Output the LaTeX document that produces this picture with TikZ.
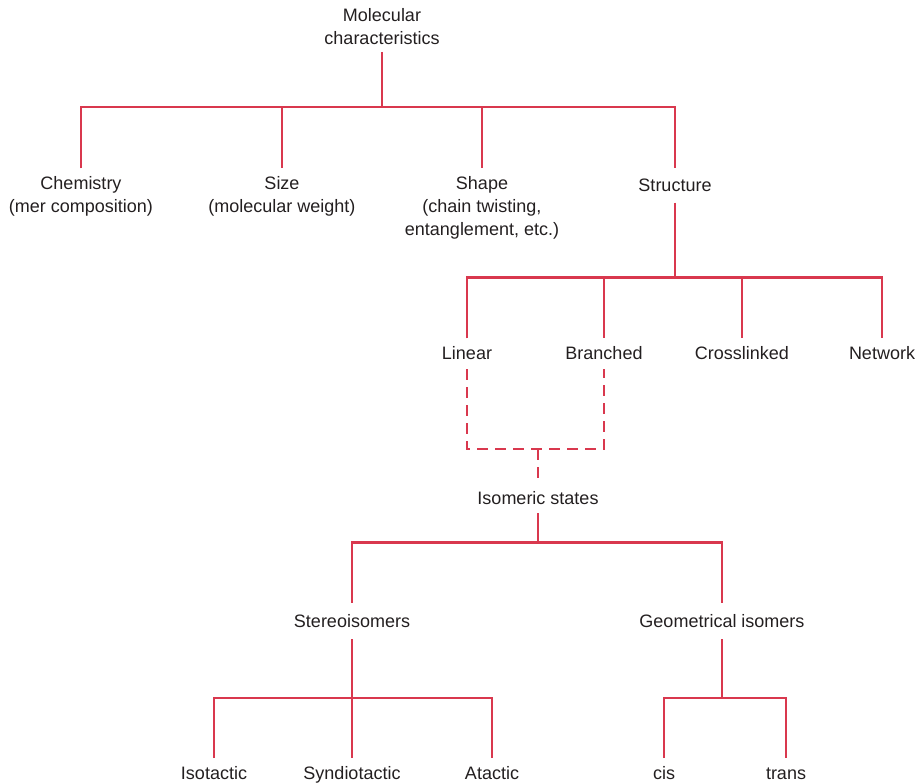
\documentclass[tikz,border=0pt]{standalone}
\usepackage{fontspec}
\setmainfont{Liberation Sans}
\definecolor{lnred}{RGB}{217,56,78}
\definecolor{txgray}{RGB}{35,31,32}
\newcommand{\mystr}{\rule[-3.8pt]{0pt}{17pt}}
\begin{document}
\begin{tikzpicture}[x=1pt,y=-1pt,
  lbl/.style={inner sep=0pt, outer sep=0pt, align=center, anchor=north,
    font=\fontsize{18}{23}\selectfont, text=txgray},
  conn/.style={draw=lnred, line width=2.7pt, line join=miter, line cap=butt},
  dconn/.style={conn, dash pattern=on 11pt off 7pt}]
\useasboundingbox (0,0) rectangle (921,783);
% nodes
\node[lbl] (top) at (382,8.3) {\mystr Molecular\\\mystr characteristics};
\node[lbl] (chem) at (81,176.1) {\mystr Chemistry\\\mystr (mer composition)};
\node[lbl] (size) at (282,176.1) {\mystr Size\\\mystr (molecular weight)};
\node[lbl] (shape) at (482,176.1) {\mystr Shape\\\mystr (chain twisting,\\\mystr entanglement, etc.)};
\node[lbl] (struct) at (675,178.5) {\mystr Structure};
\node[lbl] (linear) at (467,346.8) {\mystr Linear};
\node[lbl] (branched) at (604,346.8) {\mystr Branched};
\node[lbl] (cross) at (742,346.8) {\mystr Crosslinked};
\node[lbl] (network) at (882,346.8) {\mystr Network};
\node[lbl] (iso) at (538,490.8) {\mystr Isomeric states};
\node[lbl] (stereo) at (352,614.5) {\mystr Stereoisomers};
\node[lbl] (geo) at (722,614.5) {\mystr Geometrical isomers};
\node[lbl] (isot) at (214,766.1) {\mystr Isotactic};
\node[lbl] (synd) at (352,766.1) {\mystr Syndiotactic};
\node[lbl] (atac) at (492,766.1) {\mystr Atactic};
\node[lbl] (cis) at (664,766.1) {\mystr cis};
\node[lbl] (trans) at (786,766.1) {\mystr trans};
% bus coordinates
\coordinate (b1) at (382,107);
\coordinate (b2) at (675,277.5);
\coordinate (bd) at (538,449);
\coordinate (b3) at (538,542.5);
\coordinate (b4) at (352,698);
\coordinate (b5) at (722,698);
% level 1
\draw[conn, shorten <=3.7pt] (top.south) -- (b1);
\draw[conn, shorten <=7.8pt, shorten >=10.2pt] (chem.north) -- (chem |- b1) -- (struct |- b1) -- (struct.north);
\draw[conn, shorten >=7.8pt] (size |- b1) -- (size.north);
\draw[conn, shorten >=7.8pt] (shape |- b1) -- (shape.north);
% level 2
\draw[conn, shorten <=7.2pt] (struct.south) -- (b2);
\draw[conn, shorten <=8.5pt, shorten >=8.5pt] (linear.north) -- (linear |- b2) -- (network |- b2) -- (network.north);
\draw[conn, shorten >=8.5pt] (branched |- b2) -- (branched.north);
\draw[conn, shorten >=8.5pt] (cross |- b2) -- (cross.north);
% dashed
\draw[dconn, shorten <=5.5pt, shorten >=5.5pt] (linear.south) -- (linear |- bd) -- (branched |- bd) -- (branched.south);
\draw[dconn, shorten >=5.8pt] (bd) -- (iso.north);
% level 3
\draw[conn, shorten <=5.2pt] (iso.south) -- (b3);
\draw[conn, shorten <=12pt, shorten >=12pt] (stereo.north) -- (stereo |- b3) -- (geo |- b3) -- (geo.north);
% level 4
\draw[conn, shorten <=7.8pt] (stereo.south) -- (b4);
\draw[conn, shorten <=8pt, shorten >=8pt] (isot.north) -- (isot |- b4) -- (atac |- b4) -- (atac.north);
\draw[conn, shorten >=8pt] (b4) -- (synd.north);
\draw[conn, shorten <=7.8pt] (geo.south) -- (b5);
\draw[conn, shorten <=8pt, shorten >=8pt] (cis.north) -- (cis |- b5) -- (trans |- b5) -- (trans.north);
\end{tikzpicture}
\end{document}
